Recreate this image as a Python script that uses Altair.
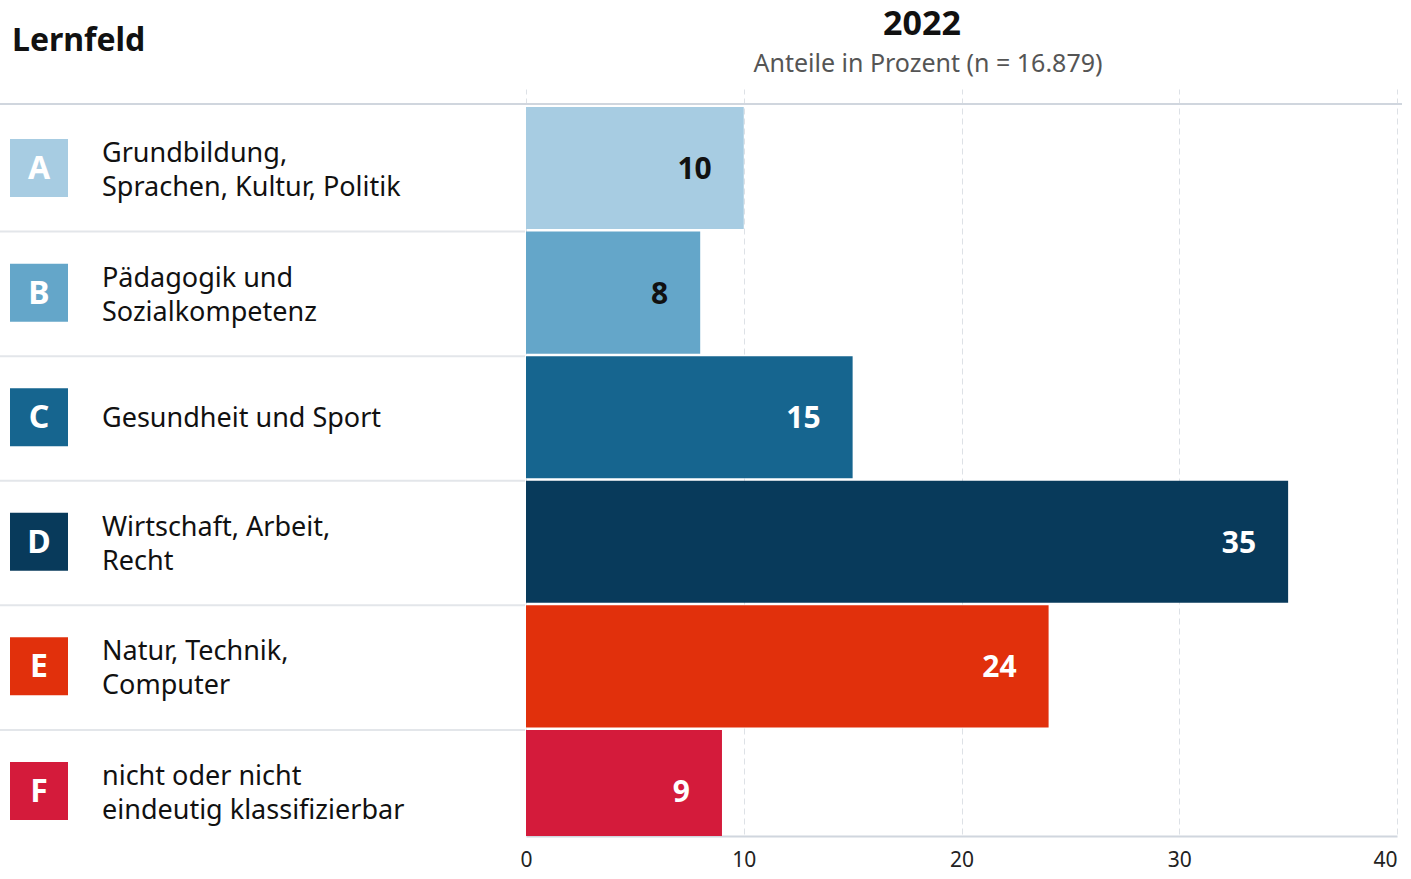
import altair as alt
import pandas as pd

# Learning fields (Lernfelder), their labels and shares in percent, 2022
letters = ["A", "B", "C", "D", "E", "F"]
labels = [
    "Grundbildung,\nSprachen, Kultur, Politik",
    "Pädagogik und\nSozialkompetenz",
    "Gesundheit und Sport",
    "Wirtschaft, Arbeit,\nRecht",
    "Natur, Technik,\nComputer",
    "nicht oder nicht\neindeutig klassifizierbar",
]
shares = [10, 8, 15, 35, 24, 9]
colors = ["#a7cce2", "#64a6c9", "#16658f", "#083a5b", "#e1300c", "#d41b3b"]
x_ticks = [0, 10, 20, 30, 40]

df = pd.DataFrame({"letter": letters, "label": labels, "share": shares})
df["lines"] = df["label"].str.count("\n") + 1

FONT = "Noto Sans"

# rows run slightly past the baseline; the last bar is clipped at the axis
y_scale = alt.Scale(domain=letters, range=[2, 747], paddingInner=0.02, paddingOuter=0)
y_enc = alt.Y("letter:N", sort=letters, scale=y_scale, axis=None)
color_scale = alt.Scale(domain=letters, range=colors)

base = alt.Chart(df)

bars = base.mark_bar(clip=True).encode(
    x=alt.X(
        "share:Q",
        scale=alt.Scale(domain=[0, 40], range=[526, 1397], nice=False),
        axis=alt.Axis(
            values=x_ticks,
            title=None,
            ticks=False,
            grid=True,
            gridDash=[6, 4],
            gridColor="#dde1e6",
            gridWidth=1,
            domainColor="#d0d6de",
            domainWidth=2,
            labelFont=FONT,
            labelFontSize=21,
            labelColor="#222222",
            labelPadding=13,
            labelFlush=False,
            labelAlign={"expr": "datum.value == 40 ? 'right' : 'center'"},
        ),
    ),
    y=y_enc,
    color=alt.Color("letter:N", scale=color_scale, legend=None),
)

values = base.mark_text(
    align="right", baseline="middle", dx=-32, dy=2, font=FONT, fontSize=30, fontWeight="bold"
).encode(
    x=alt.X("share:Q"),
    y=y_enc,
    text=alt.Text("share:Q"),
    color=alt.condition(
        alt.FieldOneOfPredicate(field="letter", oneOf=["A", "B"]),
        alt.value("#111111"),
        alt.value("#ffffff"),
    ),
)

# row separators in the label column
separators = alt.Chart(pd.DataFrame({"letter": letters[1:]})).mark_rule(
    color="#e3e6ea", strokeWidth=2
).encode(
    y=alt.Y("letter:N", sort=letters, scale=y_scale, bandPosition=0, axis=None),
    x=alt.value(0),
    x2=alt.value(525),
)

top_line = alt.Chart(pd.DataFrame({"k": [0]})).mark_rule(
    color="#d0d6de", strokeWidth=2
).encode(x=alt.value(0), x2=alt.value(1402), y=alt.value(-1))

badges = base.mark_square(size=58 * 58, opacity=1, filled=True).encode(
    x=alt.value(39),
    y=y_enc,
    color=alt.Color("letter:N", scale=color_scale, legend=None),
)

badge_letters = base.mark_text(
    align="center", baseline="middle", font=FONT, fontSize=32, fontWeight="bold", color="white", dy=1
).encode(x=alt.value(39), y=y_enc, text="letter:N")

label_style = dict(
    align="left", baseline="middle", font=FONT, fontSize=27, color="#111111",
    lineBreak="\n", lineHeight=34,
)

# two-line labels are shifted up by about half a line so the block sits centred in its row
cat_labels_two = base.transform_filter("datum.lines == 2").mark_text(
    dy=-14, **label_style
).encode(x=alt.value(102), y=y_enc, text="label:N")

cat_labels_one = base.transform_filter("datum.lines == 1").mark_text(
    dy=2, **label_style
).encode(x=alt.value(102), y=y_enc, text="label:N")

title_left = alt.Chart(pd.DataFrame({"t": ["Lernfeld"]})).mark_text(
    align="left", baseline="middle", font=FONT, fontSize=32, fontWeight="bold", color="#111111"
).encode(x=alt.value(12), y=alt.value(-64), text="t:N")

title_year = alt.Chart(pd.DataFrame({"t": ["2022"]})).mark_text(
    align="center", baseline="middle", font=FONT, fontSize=34, fontWeight="bold", color="#111111"
).encode(x=alt.value(922), y=alt.value(-80), text="t:N")

subtitle = alt.Chart(pd.DataFrame({"t": ["Anteile in Prozent (n = 16.879)"]})).mark_text(
    align="center", baseline="middle", font=FONT, fontSize=25, color="#555555"
).encode(x=alt.value(928), y=alt.value(-41), text="t:N")

chart = (
    alt.layer(
        bars, values, separators, top_line, badges, badge_letters,
        cat_labels_two, cat_labels_one, title_left, title_year, subtitle,
    )
    .properties(
        width=1397,
        height=731,
        padding={"left": 0, "top": 105, "right": 14, "bottom": 43},
        autosize=alt.AutoSizeParams(type="none"),
        background="#ffffff",
    )
    .configure_view(stroke=None)
)

chart.save("out.html", embed_options={"renderer": "svg", "actions": False})
